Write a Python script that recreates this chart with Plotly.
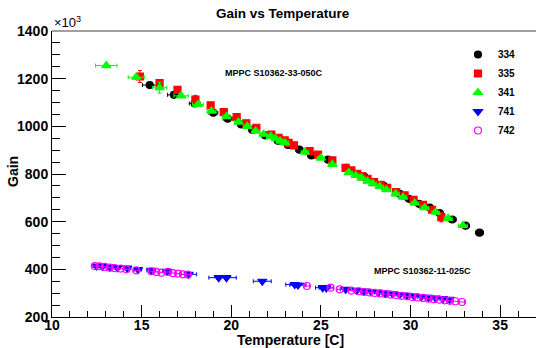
import plotly.graph_objects as go

# ---- data (Gain in units of 10^3) ----
t_334 = [15.45, 16.8, 17.96, 19.0, 19.8, 20.56, 21.18, 21.9, 22.6, 23.16, 23.8, 24.47, 25.4, 26.4,
         27.4, 28.5, 29.4, 29.91, 30.47, 31.07, 31.62, 32.33, 33.07, 33.85]
g_334 = [1173, 1132, 1096, 1057, 1032, 1008, 985, 962, 940, 922, 902, 878, 860, 826,
         790, 750, 717, 696, 675, 659, 636, 609, 583, 554]
tx_334 = [0.4, 0.35, 0.3, 0.25, 0.25, 0.2, 0.2, 0.2, 0.2, 0.2, 0.2, 0.2, 0.2, 0.2,
          0.2, 0.2, 0.2, 0.2, 0.2, 0.2, 0.2, 0.22, 0.22, 0.22]

t_335 = [14.9, 16.0, 17.0, 18.0, 18.85, 19.58, 20.3, 20.84, 21.4, 22.24, 22.64, 22.98, 23.2, 23.5,
         24.37, 24.84, 25.64, 26.38, 26.7, 27.03, 27.3, 27.6, 27.96, 28.33, 28.7, 29.2, 29.67,
         30.17, 30.7, 31.2, 31.72]
g_335 = [1209, 1181, 1153, 1112, 1088, 1060, 1039, 1013, 994, 965, 952, 941, 931, 920,
         896, 881, 857, 826, 815, 801, 790, 780, 766, 755, 742, 724, 710,
         692, 671, 650, 619]
gy_335 = [25, 12, 8, 18, 6, 5, 4, 4, 4, 4, 4, 4, 4, 4,
          4, 4, 4, 4, 4, 4, 4, 4, 4, 4, 4, 4, 4,
          4, 4, 4, 20]

t_341 = [13.03, 14.7, 16.0, 17.2, 18.14, 18.9, 19.73, 20.4, 20.9, 21.36, 21.8, 22.2, 22.48, 22.75,
         23.0, 24.1, 25.0, 25.64, 26.56, 26.94, 27.26, 27.6, 27.9, 28.28, 28.65, 29.17, 29.58,
         30.23, 30.79, 31.4, 32.1, 32.92]
g_341 = [1255, 1206, 1162, 1128, 1092, 1064, 1041, 1018, 1000, 980, 967, 958, 948, 938,
         931, 892, 867, 840, 806, 794, 784, 770, 759, 748, 734, 717, 703,
         678, 659, 640, 614, 584]
tx_341 = [0.6, 0.45, 0.4, 0.4, 0.3, 0.25, 0.2, 0.2, 0.2, 0.2, 0.2, 0.2, 0.2, 0.2,
          0.2, 0.2, 0.2, 0.2, 0.2, 0.2, 0.2, 0.2, 0.2, 0.2, 0.2, 0.2, 0.2,
          0.2, 0.2, 0.2, 0.22, 0.25]
gy_341 = [4, 10, 23, 6, 6, 5, 4, 4, 4, 4, 4, 4, 4, 4,
          4, 4, 4, 4, 4, 4, 4, 4, 4, 4, 4, 4, 4,
          4, 4, 4, 4, 4]

t_741 = [12.48, 12.81, 13.22, 13.65, 14.2, 14.8, 15.54, 16.43, 17.62, 19.3, 19.73, 21.73, 23.54,
         23.72, 25.1, 25.3, 26.38, 27.0, 27.4, 27.8, 28.2, 28.6, 29.0, 29.4, 29.8, 30.2, 30.6,
         31.0, 31.4, 31.8, 32.18]
g_741 = [414, 412, 410, 407, 405, 399, 396, 392, 379, 365, 365, 350, 336,
         334, 323, 322, 316, 312, 309, 306, 303, 300, 297, 294, 291, 288, 285,
         282, 279, 277, 274]
tx_741 = [0.15, 0.15, 0.15, 0.15, 0.2, 0.2, 0.25, 0.25, 0.45, 0.55, 0.55, 0.5, 0.5,
          0.45, 0.4, 0.4, 0.3, 0.2, 0.2, 0.2, 0.2, 0.2, 0.2, 0.2, 0.2, 0.2, 0.2,
          0.2, 0.2, 0.2, 0.2]

t_742 = [12.39, 12.66, 12.94, 13.22, 13.5, 13.83, 14.15, 14.7, 15.54, 15.82, 16.1, 16.47, 16.75,
         17.03, 17.3, 17.58, 24.22, 25.54, 26.05, 26.7, 27.1, 27.4, 27.7, 28.0, 28.3, 28.6,
         28.9, 29.2, 29.5, 29.8, 30.1, 30.4, 30.7, 31.0, 31.3, 31.6, 31.9, 32.2, 32.5, 32.87]
g_742 = [414, 413, 410, 407, 405, 403, 400, 396, 392, 389, 386, 389, 384,
         382, 379, 378, 330, 323, 316, 311, 308, 305, 303, 301, 299, 296,
         294, 292, 289, 287, 284, 282, 280, 277, 275, 273, 270, 268, 266, 263]

x_ticks = [10, 15, 20, 25, 30, 35]
y_ticks = [200, 400, 600, 800, 1000, 1200, 1400]

FONT = "Liberation Sans"

fig = go.Figure()

series = [
    ("334", t_334, g_334, tx_334, None, "circle", "#000000", 7),
    ("335", t_335, g_335, None, gy_335, "square", "#ff0000", 7),
    ("341", t_341, g_341, tx_341, gy_341, "triangle-up", "#00ff00", 8),
    ("741", t_741, g_741, tx_741, None, "triangle-down", "#0000ff", 8),
    ("742", t_742, g_742, None, None, "circle-open", "#ff00ff", 7),
]
for name, tx, gy, ex, ey, sym, col, sz in series:
    kw = {}
    if ex is not None:
        kw["error_x"] = dict(type="data", array=ex, visible=True, color=col, thickness=1, width=2)
    else:
        kw["error_x"] = dict(type="constant", value=0.15, visible=True, color=col, thickness=1, width=2)
    if ey is not None:
        kw["error_y"] = dict(type="data", array=ey, visible=True, color=col, thickness=1, width=2)
    fig.add_trace(go.Scatter(
        x=tx, y=gy, mode="markers", name=name,
        marker=dict(symbol=sym, color=col, size=sz, line=dict(color=col, width=1.2)),
        **kw))

# plot area in pixels
L, R, T, B = 52, 536, 31, 317
W, H = R - L, B - T


def px(x):
    return (x - L) / W


def py(y):
    return (B - y) / H


axis_font = dict(family=FONT, size=14, color="#000000")
fig.update_layout(
    width=536, height=348,
    margin=dict(l=L, r=536 - R, t=T, b=348 - B, autoexpand=False),
    paper_bgcolor="white", plot_bgcolor="white",
    showlegend=True,
    legend=dict(x=px(458), y=py(40), xanchor="left", yanchor="top",
                font=dict(family=FONT, size=10, color="#000000", weight="bold"),
                bgcolor="rgba(0,0,0,0)", itemwidth=30, tracegroupgap=0),
    xaxis=dict(range=[10, 37], tickvals=x_ticks, ticks="inside", ticklen=12, tickwidth=1,
               tickcolor="#000000", showline=True, linecolor="#000000", linewidth=1,
               showgrid=False, zeroline=False, automargin=False, ticklabelstandoff=-5,
               tickfont=dict(family=FONT, size=14, color="#000000", weight="bold"),
               minor=dict(dtick=1, ticks="inside", ticklen=6, tickcolor="#000000")),
    yaxis=dict(range=[200, 1400], tickvals=y_ticks, ticks="inside", ticklen=14, tickwidth=1,
               tickcolor="#000000", showline=True, linecolor="#000000", linewidth=1,
               showgrid=False, zeroline=False, automargin=False,
               tickfont=dict(family=FONT, size=14, color="#000000", weight="bold"),
               minor=dict(dtick=50, ticks="inside", ticklen=8, tickcolor="#000000")),
)
fig.add_shape(type="line", xref="paper", yref="paper", x0=0, x1=1, y0=1, y1=1,
              line=dict(color="#808080", width=1.5))

fig.update_layout(annotations=[
    dict(text="<b>Gain vs Temperature</b>", xref="paper", yref="paper",
         x=px(283), y=py(13), xanchor="center", yanchor="middle",
         showarrow=False, font=dict(family=FONT, size=13.5, color="#000000")),
    dict(text="<b>Gain</b>", xref="paper", yref="paper", textangle=-90,
         x=px(13), y=py(172), xanchor="center", yanchor="middle",
         showarrow=False, font=axis_font),
    dict(text="<b>Temperature [C]</b>", xref="paper", yref="paper",
         x=px(346), y=py(340), xanchor="right", yanchor="middle",
         showarrow=False, font=axis_font),
    dict(text="×10<sup>3</sup>", xref="paper", yref="paper",
         x=px(52), y=py(22), xanchor="left", yanchor="middle",
         showarrow=False, font=dict(family=FONT, size=13, color="#000000")),
    dict(text="<b>MPPC S10362-33-050C</b>", xref="paper", yref="paper",
         x=px(223), y=py(73), xanchor="left", yanchor="middle",
         showarrow=False, font=dict(family=FONT, size=9, color="#000000")),
    dict(text="<b>MPPC S10362-11-025C</b>", xref="paper", yref="paper",
         x=px(372), y=py(271), xanchor="left", yanchor="middle",
         showarrow=False, font=dict(family=FONT, size=9, color="#000000")),
])

fig.write_html("out.html", config={"displayModeBar": False},
               post_script="document.body.style.margin='0';document.body.style.overflow='hidden';")
